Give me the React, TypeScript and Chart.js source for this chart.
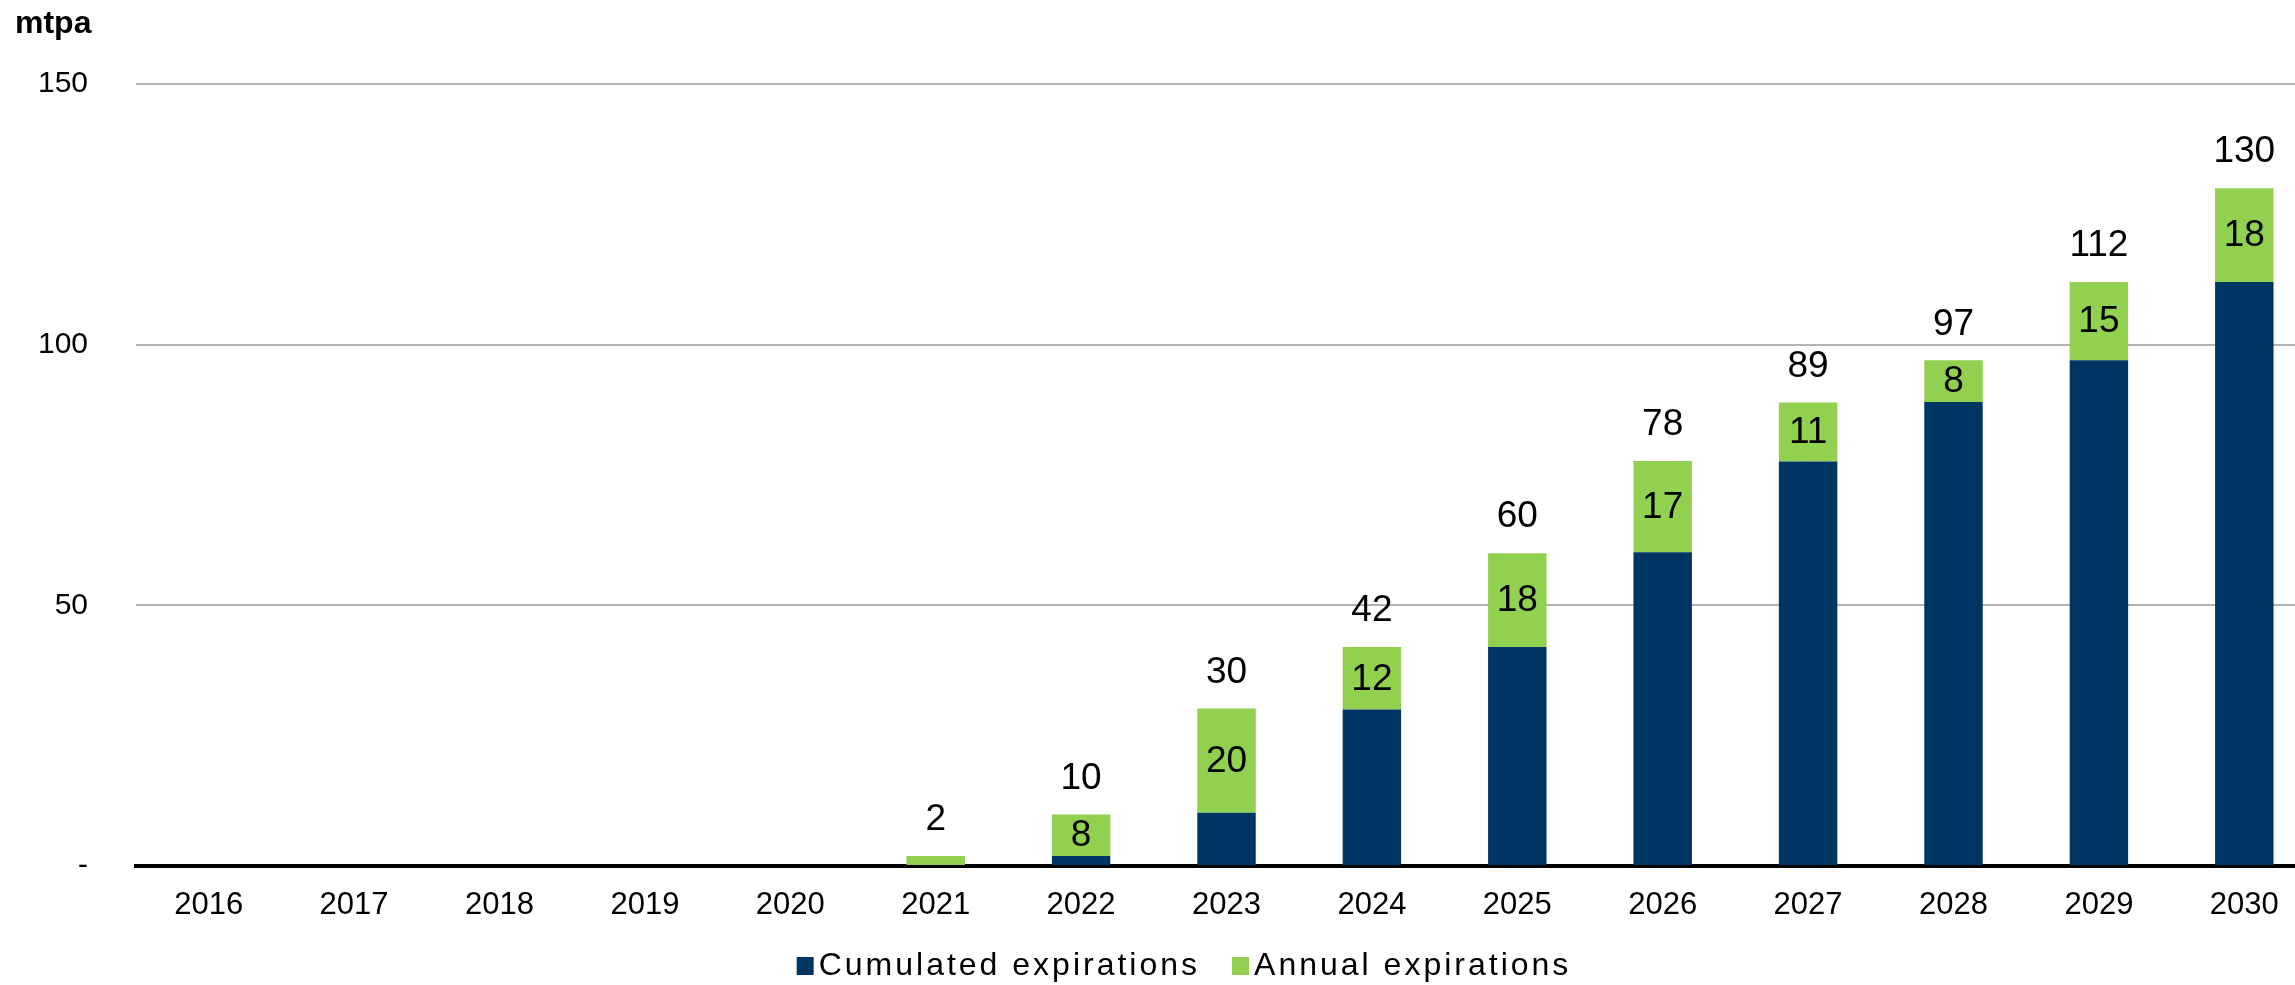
import React, { useEffect, useRef } from "react";
import { Chart, registerables } from "chart.js";

Chart.register(...registerables);

const categories = ["2016", "2017", "2018", "2019", "2020", "2021", "2022", "2023", "2024", "2025", "2026", "2027", "2028", "2029", "2030"];
const cumulated = [0, 0, 0, 0, 0, 0, 1.9, 10.2, 30, 42, 60.2, 77.6, 89, 97, 112];
const annual = [0, 0, 0, 0, 0, 1.9, 8, 20, 12, 18, 17.5, 11.3, 8, 15, 18];
const annualLabels = ["", "", "", "", "", "", "8", "20", "12", "18", "17", "11", "8", "15", "18"];
const totalLabels = ["", "", "", "", "", "2", "10", "30", "42", "60", "78", "89", "97", "112", "130"];
const yTicks = [0, 50, 100, 150];
const unitLabel = "mtpa";

const FONT = "'Liberation Sans', Arial, sans-serif";
const NAVY = "#003462";
const GREEN = "#92D050";

const labelPlugin = {
  id: "customLabels",
  afterDatasetsDraw(chart: any) {
    const ctx = chart.ctx;
    const metaC = chart.getDatasetMeta(0);
    const metaA = chart.getDatasetMeta(1);
    ctx.save();
    ctx.fillStyle = "#000";
    ctx.textAlign = "center";
    ctx.textBaseline = "middle";
    ctx.font = `37px ${FONT}`;
    categories.forEach((_, i) => {
      const barA = metaA.data[i];
      const barC = metaC.data[i];
      if (annualLabels[i]) {
        const cy = (barA.y + barA.base) / 2;
        ctx.fillText(annualLabels[i], barA.x, cy + 1);
      }
      if (totalLabels[i]) {
        const top = Math.min(barA.y, barC.y);
        ctx.fillText(totalLabels[i], barA.x, top - 36);
      }
    });
    ctx.restore();
  },
  afterDraw(chart: any) {
    const ctx = chart.ctx;
    ctx.save();
    // unit title
    ctx.fillStyle = "#000";
    ctx.font = `bold 32px ${FONT}`;
    ctx.textAlign = "left";
    ctx.textBaseline = "alphabetic";
    ctx.fillText(unitLabel, 15, 33);
    // legend
    ctx.font = `32px ${FONT}`;
    (ctx as any).letterSpacing = "3px";
    const items = chart.data.datasets.map((d: any) => ({ label: d.label, color: d.backgroundColor }));
    const boxW = 17, boxH = 18, boxGap = 5, itemGap = 32;
    const widths = items.map((it: any) => boxW + boxGap + ctx.measureText(it.label).width);
    const total = widths.reduce((a: number, b: number) => a + b, 0) + itemGap * (items.length - 1);
    let x = 1184 - total / 2;
    const cy = 966;
    items.forEach((it: any, k: number) => {
      ctx.fillStyle = it.color;
      ctx.fillRect(x, cy - boxH / 2, boxW, boxH);
      ctx.fillStyle = "#000";
      ctx.textBaseline = "middle";
      ctx.fillText(it.label, x + boxW + boxGap, cy);
      x += widths[k] + itemGap;
    });
    ctx.restore();
  },
};

export default function App() {
  const ref = useRef<HTMLCanvasElement>(null);
  useEffect(() => {
    document.body.style.margin = "0";
    const canvas = ref.current!;
    const chart = new Chart(canvas, {
      type: "bar",
      data: {
        labels: categories,
        datasets: [
          { label: "Cumulated expirations", data: cumulated, backgroundColor: NAVY, stack: "s", barPercentage: 0.402, categoryPercentage: 1 },
          { label: "Annual expirations", data: annual, backgroundColor: GREEN, stack: "s", barPercentage: 0.402, categoryPercentage: 1 },
        ],
      },
      options: {
        responsive: false,
        animation: false,
        devicePixelRatio: 1,
        layout: { padding: { top: 84, right: 13, bottom: 0, left: 0 } },
        plugins: { legend: { display: false }, tooltip: { enabled: false } },
        scales: {
          x: {
            stacked: true,
            z: 1,
            grid: { display: false, drawTicks: false },
            border: { display: true, color: "#000", width: 4 },
            ticks: { color: "#000", font: { family: FONT, size: 31 }, padding: 21, maxRotation: 0, autoSkip: false },
            afterFit: (s: any) => { s.height = 119; },
          },
          y: {
            stacked: true,
            min: 0,
            max: 150,
            afterBuildTicks: (s: any) => { s.ticks = yTicks.map((v) => ({ value: v })); },
            grid: {
              drawTicks: false,
              color: (c: any) => (c.tick && c.tick.value === 0 ? "rgba(0,0,0,0)" : "#b3b3b3"),
              lineWidth: 2,
            },
            border: { display: false },
            ticks: {
              color: "#000",
              font: { family: FONT, size: 30 },
              padding: 48,
              callback: (v: any) => (Number(v) === 0 ? "-" : String(v)),
            },
            afterFit: (s: any) => { s.width = 136; },
          },
        },
      },
      plugins: [labelPlugin],
    });
    return () => chart.destroy();
  }, []);
  return (
    <div style={{ width: 2295, height: 985, overflow: "hidden", position: "relative" }}>
      <canvas ref={ref} width={2330} height={985} style={{ display: "block", width: 2330, height: 985 }} />
    </div>
  );
}
